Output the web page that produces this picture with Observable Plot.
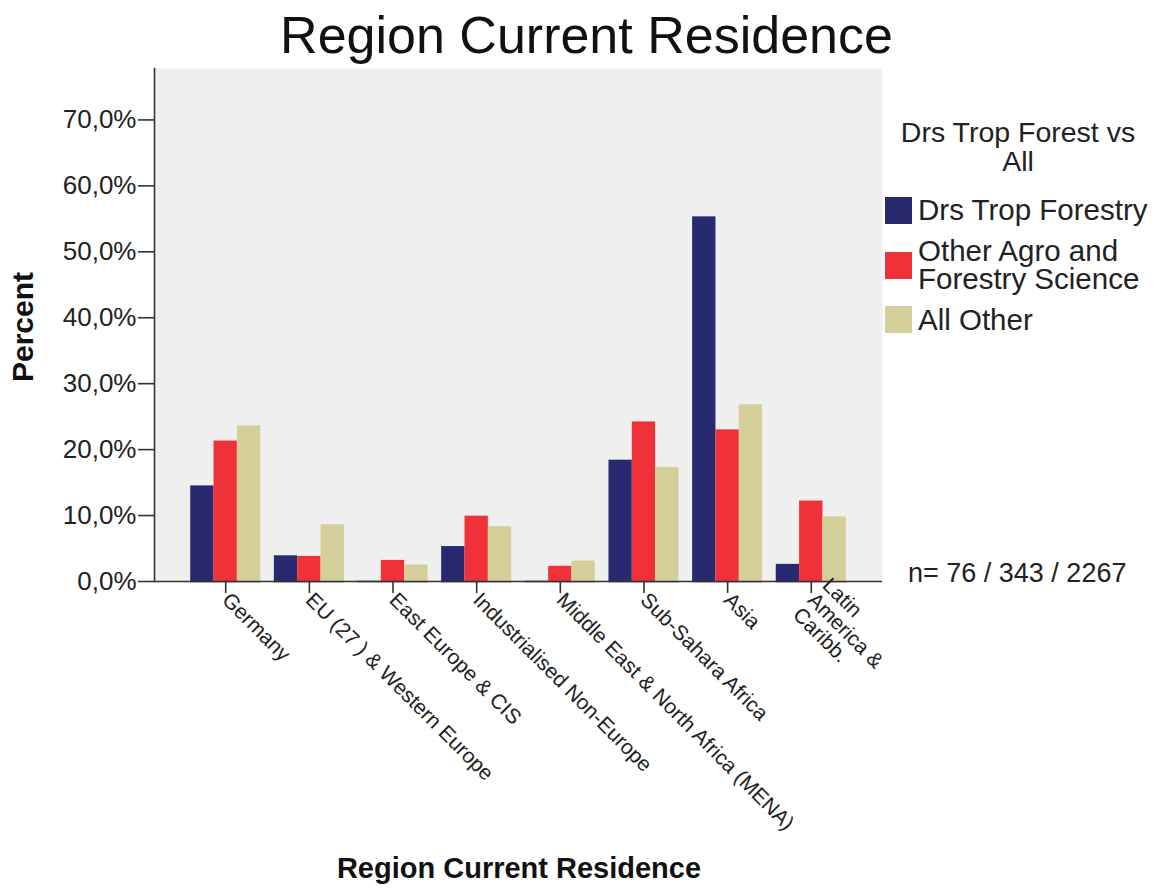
<!DOCTYPE html>
<html><head><meta charset="utf-8">
<script src="https://cdn.jsdelivr.net/npm/d3@7"></script>
<script src="https://cdn.jsdelivr.net/npm/@observablehq/plot@0.6"></script>
<style>
body{margin:0;background:#fff;font-family:"Liberation Sans",Arial,sans-serif;color:#111}
#wrap{position:relative;width:1162px;height:889px;overflow:hidden}
#wrap svg{position:absolute;left:0;top:0}
.abs{position:absolute;white-space:nowrap}
#title{left:0;width:1173px;top:9px;text-align:center;font-size:52px;line-height:52px}
#ytitle{left:0;top:0;transform-origin:0 0;transform:translate(33px,327px) rotate(-90deg) translate(-50%,-25.3px);font-size:30px;line-height:30px;font-weight:bold}
#xtitle{left:0;width:1038px;top:854px;text-align:center;font-size:29px;line-height:29px;font-weight:bold}
#ntext{left:908px;top:560px;font-size:27px;line-height:27px;color:#222}
.legtitle{left:880px;width:276px;text-align:center;font-size:28.5px;line-height:28.5px;color:#222}
#legend{left:885px;top:196px;display:flex;flex-direction:column;gap:12px}
.item{display:flex;align-items:center;gap:6px}
.sw{width:27px;height:27px;flex:none}
.lab{font-size:29.5px;line-height:28.5px;width:244px;white-space:normal;color:#222}
</style></head><body><div id="wrap"></div>
<script>
const regions = ["Germany", "EU (27 ) & Western Europe", "East Europe & CIS", "Industrialised Non-Europe", "Middle East & North Africa (MENA)", "Sub-Sahara Africa", "Asia", "Latin America & Caribb."];
const tickLabels = ["Germany", "EU (27 ) & Western Europe", "East Europe & CIS", "Industrialised Non-Europe", "Middle East & North Africa (MENA)", "Sub-Sahara Africa", "Asia", "Latin\nAmerica &\nCaribb."];
const series = ["Drs Trop Forestry", "Other Agro and Forestry Science", "All Other"];
const drsTropForestry = [14.5, 3.9, 0, 5.3, 0, 18.4, 55.3, 2.6];
const otherAgroForestry = [21.3, 3.8, 3.2, 9.9, 2.3, 24.2, 23.0, 12.2];
const allOther = [23.6, 8.6, 2.5, 8.3, 3.1, 17.3, 26.8, 9.8];
const colors = ["#29296f", "#ef3239", "#d4ce98"];
const yTicks = [0, 10, 20, 30, 40, 50, 60, 70];
const legendTitleLines = ["Drs Trop Forest vs", "All"];
const nText = "n= 76 / 343 / 2267";
const chartTitle = "Region Current Residence";
const xTitle = "Region Current Residence";
const yTitle = "Percent";

const valuesBySeries = [drsTropForestry, otherAgroForestry, allOther];
const data = regions.flatMap((r, i) => series.map((s, j) => ({region: r, series: s, value: valuesBySeries[j][i]})));

const fmt = d => d.toFixed(1).replace(".", ",") + "%";

const common = {
  width: 1162, height: 889,
  marginTop: 68, marginLeft: 154, marginRight: 280, marginBottom: 308,
  style: {fontFamily: "'Liberation Sans', Arial, sans-serif", background: "transparent", color: "#222", overflow: "visible"},
  y: {domain: [0, 77.8], axis: null}
};

// background + y axis (non-faceted)
const axes = Plot.plot({
  ...common,
  marks: [
    Plot.frame({fill: "#efefef", stroke: null}),
    Plot.ruleY([0], {stroke: "#333", strokeWidth: 1.6}),
    Plot.frame({anchor: "left", stroke: "#333", strokeWidth: 1.6}),
    Plot.axisY({ticks: yTicks, tickFormat: fmt, tickSize: 16, tickPadding: 2, fontSize: 26, label: null, stroke: "#333", strokeWidth: 1.6})
  ]
});

// grouped bars + category axis
const plot = Plot.plot({
  ...common,
  fx: {domain: regions, paddingInner: 0.163, paddingOuter: 0.433, round: false, label: null},
  x: {domain: series, padding: 0, round: false, axis: null},
  color: {domain: series, range: colors},
  marks: [
    Plot.barY(data, {fx: "region", x: "series", y: "value", fill: "series", inset: 0}),
    Plot.ruleY([0], {stroke: "#333", strokeWidth: 1.6}),
    Plot.axisFx({anchor: "bottom", tickRotate: 45, textAnchor: "start", lineAnchor: "middle", tickSize: 12, tickPadding: 3, fontSize: 21, label: null, stroke: "#333", strokeWidth: 1.6, tickFormat: d => tickLabels[regions.indexOf(d)]})
  ]
});

const wrap = document.getElementById("wrap");
wrap.appendChild(axes);
wrap.appendChild(plot);

function add(id, html, cls) { const d = document.createElement("div"); if (id) d.id = id; d.className = "abs" + (cls ? " " + cls : ""); d.textContent = html; wrap.appendChild(d); return d; }
add("title", chartTitle);
add("ytitle", yTitle);
add("xtitle", xTitle);
add("ntext", nText);
legendTitleLines.forEach((t, i) => { const d = add(null, t, "legtitle"); d.style.top = (118 + i * 29) + "px"; });
const leg = add("legend", "");
series.forEach((s, i) => {
  const it = document.createElement("div"); it.className = "item";
  const sw = document.createElement("div"); sw.className = "sw"; sw.style.background = colors[i];
  const lb = document.createElement("div"); lb.className = "lab"; lb.textContent = s;
  it.appendChild(sw); it.appendChild(lb); leg.appendChild(it);
});
</script></body></html>
